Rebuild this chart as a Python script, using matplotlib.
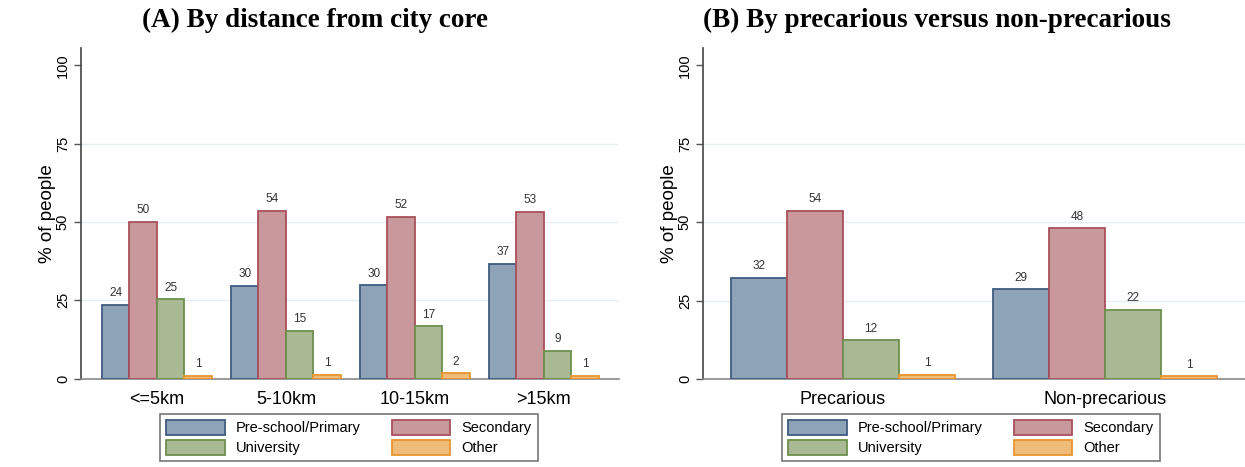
import numpy as np
import matplotlib.pyplot as plt

plt.rcParams['font.family'] = ['Liberation Sans', 'DejaVu Sans']

# education level shares (% of people)
levels = ['Pre-school/Primary', 'Secondary', 'University', 'Other']
fills = ['#8ea3b8', '#c9989c', '#a9b994', '#f0bc7a']
edges = ['#3f5c80', '#a8505c', '#6e8f4c', '#e8962e']

dist_groups = ['<=5km', '5-10km', '10-15km', '>15km']
dist_primary = [23.6, 29.6, 29.7, 36.6]
dist_secondary = [50.1, 53.6, 51.6, 53.3]
dist_university = [25.3, 15.2, 16.7, 8.8]
dist_other = [0.8, 1.2, 1.6, 0.9]

prec_groups = ['Precarious', 'Non-precarious']
prec_primary = [32.2, 28.6]
prec_secondary = [53.6, 48.1]
prec_university = [12.3, 22.1]
prec_other = [1.3, 0.8]


def bar_panel(ax, groups, series, gap, lmar, rmar):
    n = len(groups)
    pitch = 4 + gap
    handles = []
    for j, vals in enumerate(series):
        x = np.arange(n) * pitch + j + 0.5
        bars = ax.bar(x, vals, width=1.0, color=fills[j], edgecolor=edges[j],
                      linewidth=1.3, label=levels[j], zorder=3)
        handles.append(bars)
        for b, v in zip(bars, vals):
            ax.annotate('%.0f' % round(v), (b.get_x() + 0.5, v),
                        xytext=(0, 4), textcoords='offset points',
                        ha='center', va='bottom', fontsize=8.5, color='#333333')
    ax.set_xlim(-lmar, (n - 1) * pitch + 4 + rmar)
    ax.set_xticks(np.arange(n) * pitch + 2)
    ax.set_xticklabels(groups, fontsize=13)
    ax.tick_params(axis='x', length=0, pad=9)
    ax.set_ylim(0, 105.5)
    ax.set_yticks([0, 25, 50, 75, 100])
    ax.set_yticklabels(['0', '25', '50', '75', '100'], rotation=90, va='center', fontsize=10.5)
    ax.tick_params(axis='y', length=5, width=1, color='#555555', pad=3)
    for g in [25, 50, 75]:
        ax.axhline(g, color='#e6eef1', linewidth=1, zorder=1)
    ax.set_ylabel('% of people', fontsize=13.5, labelpad=0)
    for s in ['top', 'right']:
        ax.spines[s].set_visible(False)
    ax.spines['left'].set_color('#444444')
    ax.spines['bottom'].set_color('#888888')
    ax.spines['left'].set_linewidth(1.2)
    ax.spines['bottom'].set_linewidth(1.2)
    return handles


fig = plt.figure(figsize=(12.45, 4.67), dpi=100)
W, H = 1245, 467

axA = fig.add_axes([81 / W, (H - 378.5) / H, (619 - 81) / W, (378.5 - 48) / H])
hA = bar_panel(axA, dist_groups,
               [dist_primary, dist_secondary, dist_university, dist_other],
               gap=0.69, lmar=0.76, rmar=0.73)

axB = fig.add_axes([703 / W, (H - 379) / H, (1245 - 703) / W, (379 - 48) / H])
hB = bar_panel(axB, prec_groups,
               [prec_primary, prec_secondary, prec_university, prec_other],
               gap=0.68, lmar=0.5, rmar=0.5)

fig.text(315 / W, 1 - 20 / H, '(A) By distance from city core', ha='center', va='center',
         fontsize=19.5, fontweight='bold', family='Liberation Serif')
fig.text(937 / W, 1 - 20 / H, '(B) By precarious versus non-precarious', ha='center', va='center',
         fontsize=19.5, fontweight='bold', family='Liberation Serif')

# legend filled row by row: primary, secondary / university, other
order = [0, 2, 1, 3]
for ax, h, cx in [(axA, hA, 349 / W), (axB, hB, 971 / W)]:
    leg = ax.legend([h[i] for i in order], [levels[i] for i in order],
                    loc='center', bbox_to_anchor=(cx, 1 - 437.5 / H), bbox_transform=fig.transFigure,
                    ncol=2, fontsize=10.5, frameon=True, fancybox=False, edgecolor='#555555',
                    handlelength=4.0, handleheight=1.2, columnspacing=2.1, handletextpad=0.8,
                    labelspacing=0.3, borderpad=0.4)
    leg.get_frame().set_linewidth(1.2)

fig.savefig('out.png', dpi=100)
